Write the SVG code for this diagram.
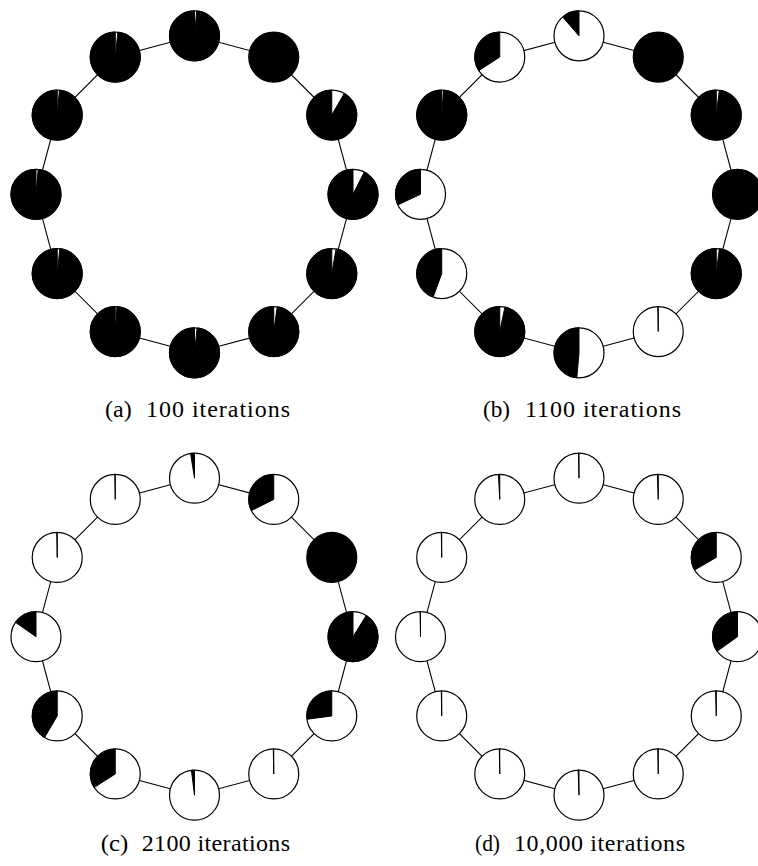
<svg xmlns="http://www.w3.org/2000/svg" width="758" height="866" viewBox="0 0 758 866">
<style>
.n{fill:#fff;stroke:#000;stroke-width:1.2}
.f{fill:#000;stroke:#000;stroke-width:1.2}
.s{fill:#000;stroke:#000;stroke-width:1;stroke-linejoin:miter}
.c{fill:none;stroke:#000;stroke-width:1.1}
.t{font-family:"Liberation Serif","Times New Roman",serif;font-size:24px;fill:#000}
</style>
<rect width="758" height="866" fill="#fff"/>
<g id="connectors">
<polygon class="c" points="194.5,35.8 273.75,57.03 331.77,115.05 353,194.3 331.77,273.55 273.75,331.57 194.5,352.8 115.25,331.57 57.23,273.55 36,194.3 57.23,115.05 115.25,57.03"/>
<polygon class="c" points="579,35.8 658.25,57.03 716.27,115.05 737.5,194.3 716.27,273.55 658.25,331.57 579,352.8 499.75,331.57 441.73,273.55 420.5,194.3 441.73,115.05 499.75,57.03"/>
<polygon class="c" points="194.5,478.2 273.75,499.43 331.77,557.45 353,636.7 331.77,715.95 273.75,773.97 194.5,795.2 115.25,773.97 57.23,715.95 36,636.7 57.23,557.45 115.25,499.43"/>
<polygon class="c" points="579,478.2 658.25,499.43 716.27,557.45 737.5,636.7 716.27,715.95 658.25,773.97 579,795.2 499.75,773.97 441.73,715.95 420.5,636.7 441.73,557.45 499.75,499.43"/>
</g>
<g id="panel-a">
<g id="a0" transform="translate(194.5,35.8)"><circle class="n" r="25"/><path class="s" d="M0,0 L0,-25 A25,25 0 1 0 2.18,-24.9 Z"/></g>
<g id="a1" transform="translate(273.75,57.03)"><circle class="f" r="25"/></g>
<g id="a2" transform="translate(331.77,115.05)"><circle class="n" r="25"/><path class="s" d="M0,0 L0,-25 A25,25 0 1 0 12.5,-21.65 Z"/></g>
<g id="a3" transform="translate(353,194.3)"><circle class="n" r="25"/><path class="s" d="M0,0 L0,-25 A25,25 0 1 0 11.35,-22.28 Z"/></g>
<g id="a4" transform="translate(331.77,273.55)"><circle class="n" r="25"/><path class="s" d="M0,0 L0,-25 A25,25 0 1 0 4.34,-24.62 Z"/></g>
<g id="a5" transform="translate(273.75,331.57)"><circle class="n" r="25"/><path class="s" d="M0,0 L0,-25 A25,25 0 1 0 3.48,-24.76 Z"/></g>
<g id="a6" transform="translate(194.5,352.8)"><circle class="n" r="25"/><path class="s" d="M0,0 L0,-25 A25,25 0 1 0 2.61,-24.86 Z"/></g>
<g id="a7" transform="translate(115.25,331.57)"><circle class="n" r="25"/><path class="s" d="M0,0 L0,-25 A25,25 0 1 0 1.74,-24.94 Z"/></g>
<g id="a8" transform="translate(57.23,273.55)"><circle class="n" r="25"/><path class="s" d="M0,0 L0,-25 A25,25 0 1 0 2.61,-24.86 Z"/></g>
<g id="a9" transform="translate(36,194.3)"><circle class="n" r="25"/><path class="s" d="M0,0 L0,-25 A25,25 0 1 0 2.18,-24.9 Z"/></g>
<g id="a10" transform="translate(57.23,115.05)"><circle class="n" r="25"/><path class="s" d="M0,0 L0,-25 A25,25 0 1 0 2.18,-24.9 Z"/></g>
<g id="a11" transform="translate(115.25,57.03)"><circle class="n" r="25"/><path class="s" d="M0,0 L0,-25 A25,25 0 1 0 2.61,-24.86 Z"/></g>
</g>
<g id="panel-b">
<g id="b0" transform="translate(579,35.8)"><circle class="n" r="25"/><path class="s" d="M0,0 L0,-25 A25,25 0 0 0 -16.4,-18.87 Z"/></g>
<g id="b1" transform="translate(658.25,57.03)"><circle class="f" r="25"/></g>
<g id="b2" transform="translate(716.27,115.05)"><circle class="n" r="25"/><path class="s" d="M0,0 L0,-25 A25,25 0 1 0 3.05,-24.81 Z"/></g>
<g id="b3" transform="translate(737.5,194.3)"><circle class="f" r="25"/></g>
<g id="b4" transform="translate(716.27,273.55)"><circle class="n" r="25"/><path class="s" d="M0,0 L0,-25 A25,25 0 1 0 3.05,-24.81 Z"/></g>
<g id="b5" transform="translate(658.25,331.57)"><circle class="n" r="25"/><path class="s" d="M0,0 L0,-25 A25,25 0 0 0 -0.44,-25 Z"/></g>
<g id="b6" transform="translate(579,352.8)"><circle class="n" r="25"/><path class="s" d="M0,0 L0,-25 A25,25 0 0 0 -2.18,24.9 Z"/></g>
<g id="b7" transform="translate(499.75,331.57)"><circle class="n" r="25"/><path class="s" d="M0,0 L0,-25 A25,25 0 1 0 5.2,-24.45 Z"/></g>
<g id="b8" transform="translate(441.73,273.55)"><circle class="n" r="25"/><path class="s" d="M0,0 L0,-25 A25,25 0 0 0 -8.55,23.49 Z"/></g>
<g id="b9" transform="translate(420.5,194.3)"><circle class="n" r="25"/><path class="s" d="M0,0 L0,-25 A25,25 0 0 0 -22.66,10.57 Z"/></g>
<g id="b10" transform="translate(441.73,115.05)"><circle class="n" r="25"/><path class="s" d="M0,0 L0,-25 A25,25 0 1 0 1.74,-24.94 Z"/></g>
<g id="b11" transform="translate(499.75,57.03)"><circle class="n" r="25"/><path class="s" d="M0,0 L0,-25 A25,25 0 0 0 -20.97,13.62 Z"/></g>
</g>
<g id="panel-c">
<g id="c0" transform="translate(194.5,478.2)"><circle class="n" r="25"/><path class="s" d="M0,0 L0,-25 A25,25 0 0 0 -3.91,-24.69 Z"/></g>
<g id="c1" transform="translate(273.75,499.43)"><circle class="n" r="25"/><path class="s" d="M0,0 L0,-25 A25,25 0 0 0 -22.35,11.18 Z"/></g>
<g id="c2" transform="translate(331.77,557.45)"><circle class="f" r="25"/></g>
<g id="c3" transform="translate(353,636.7)"><circle class="n" r="25"/><path class="s" d="M0,0 L0,-25 A25,25 0 1 0 13.25,-21.2 Z"/></g>
<g id="c4" transform="translate(331.77,715.95)"><circle class="n" r="25"/><path class="s" d="M0,0 L0,-25 A25,25 0 0 0 -24.78,3.3 Z"/></g>
<g id="c5" transform="translate(273.75,773.97)"><circle class="n" r="25"/><path class="s" d="M0,0 L0,-25 A25,25 0 0 0 -0.44,-25 Z"/></g>
<g id="c6" transform="translate(194.5,795.2)"><circle class="n" r="25"/><path class="s" d="M0,0 L0,-25 A25,25 0 0 0 -3.05,-24.81 Z"/></g>
<g id="c7" transform="translate(115.25,773.97)"><circle class="n" r="25"/><path class="s" d="M0,0 L0,-25 A25,25 0 0 0 -21.06,13.47 Z"/></g>
<g id="c8" transform="translate(57.23,715.95)"><circle class="n" r="25"/><path class="s" d="M0,0 L0,-25 A25,25 0 0 0 -12.65,21.56 Z"/></g>
<g id="c9" transform="translate(36,636.7)"><circle class="n" r="25"/><path class="s" d="M0,0 L0,-25 A25,25 0 0 0 -20.48,-14.34 Z"/></g>
<g id="c10" transform="translate(57.23,557.45)"><circle class="n" r="25"/><path class="s" d="M0,0 L0,-25 A25,25 0 0 0 -0.44,-25 Z"/></g>
<g id="c11" transform="translate(115.25,499.43)"><circle class="n" r="25"/><path class="s" d="M0,0 L0,-25 A25,25 0 0 0 -0.44,-25 Z"/></g>
</g>
<g id="panel-d">
<g id="d0" transform="translate(579,478.2)"><circle class="n" r="25"/><path class="s" d="M0,0 L0,-25 A25,25 0 0 0 -0.44,-25 Z"/></g>
<g id="d1" transform="translate(658.25,499.43)"><circle class="n" r="25"/><path class="s" d="M0,0 L0,-25 A25,25 0 0 0 -0.87,-24.98 Z"/></g>
<g id="d2" transform="translate(716.27,557.45)"><circle class="n" r="25"/><path class="s" d="M0,0 L0,-25 A25,25 0 0 0 -21.65,12.5 Z"/></g>
<g id="d3" transform="translate(737.5,636.7)"><circle class="n" r="25"/><path class="s" d="M0,0 L0,-25 A25,25 0 0 0 -20.35,14.52 Z"/></g>
<g id="d4" transform="translate(716.27,715.95)"><circle class="n" r="25"/><path class="s" d="M0,0 L0,-25 A25,25 0 0 0 -0.65,-24.99 Z"/></g>
<g id="d5" transform="translate(658.25,773.97)"><circle class="n" r="25"/><path class="s" d="M0,0 L0,-25 A25,25 0 0 0 -0.44,-25 Z"/></g>
<g id="d6" transform="translate(579,795.2)"><circle class="n" r="25"/><path class="s" d="M0,0 L0,-25 A25,25 0 0 0 -0.87,-24.98 Z"/></g>
<g id="d7" transform="translate(499.75,773.97)"><circle class="n" r="25"/><path class="s" d="M0,0 L0,-25 A25,25 0 0 0 -0.44,-25 Z"/></g>
<g id="d8" transform="translate(441.73,715.95)"><circle class="n" r="25"/><path class="s" d="M0,0 L0,-25 A25,25 0 0 0 -0.44,-25 Z"/></g>
<g id="d9" transform="translate(420.5,636.7)"><circle class="n" r="25"/><path class="s" d="M0,0 L0,-25 A25,25 0 0 0 -0.44,-25 Z"/></g>
<g id="d10" transform="translate(441.73,557.45)"><circle class="n" r="25"/><path class="s" d="M0,0 L0,-25 A25,25 0 0 0 -0.44,-25 Z"/></g>
<g id="d11" transform="translate(499.75,499.43)"><circle class="n" r="25"/><path class="s" d="M0,0 L0,-25 A25,25 0 0 0 -1.31,-24.97 Z"/></g>
</g>
<g id="captions">
<text class="t" x="105" y="417" textLength="26.7" lengthAdjust="spacingAndGlyphs">(a)</text>
<text class="t" x="146" y="417" textLength="144" lengthAdjust="spacing">100 iterations</text>
<text class="t" x="483" y="417" textLength="27" lengthAdjust="spacingAndGlyphs">(b)</text>
<text class="t" x="525" y="417" textLength="156" lengthAdjust="spacing">1100 iterations</text>
<text class="t" x="100.7" y="851" textLength="27.6" lengthAdjust="spacingAndGlyphs">(c)</text>
<text class="t" x="141.7" y="851" textLength="148.3" lengthAdjust="spacing">2100 iterations</text>
<text class="t" x="475" y="851" textLength="25" lengthAdjust="spacingAndGlyphs">(d)</text>
<text class="t" x="514" y="851" textLength="171" lengthAdjust="spacing">10,000 iterations</text>
</g>
</svg>
